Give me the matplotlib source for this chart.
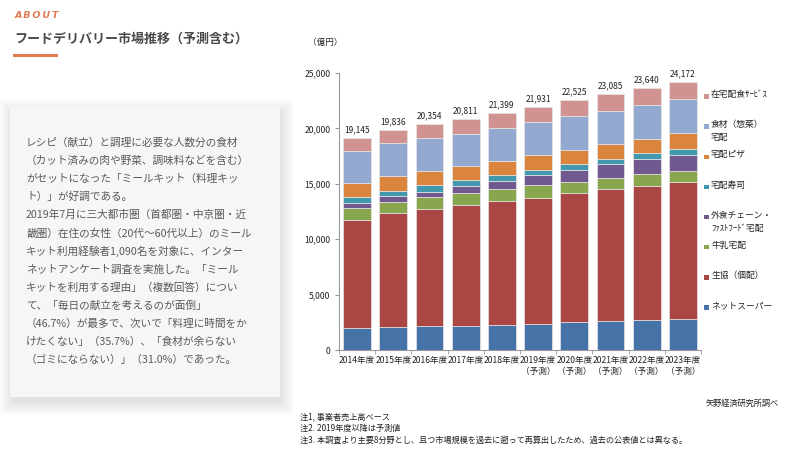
import matplotlib
matplotlib.use("Agg")
import matplotlib.pyplot as plt
from matplotlib.patches import Rectangle
from matplotlib.ticker import FuncFormatter, FixedLocator
import numpy as np

plt.rcParams['font.family'] = ['Noto Sans CJK JP', 'DejaVu Sans']

# ---------------- data ----------------
years = ["2014年度", "2015年度", "2016年度", "2017年度", "2018年度",
         "2019年度\n（予測）", "2020年度\n（予測）", "2021年度\n（予測）",
         "2022年度\n（予測）", "2023年度\n（予測）"]
totals = [19145, 19836, 20354, 20811, 21399, 21931, 22525, 23085, 23640, 24172]

net_super = [1958, 2046, 2136, 2196, 2256, 2347, 2497, 2617, 2737, 2828]
seikyo    = [9780, 10290, 10590, 10861, 11162, 11401, 11643, 11884, 12095, 12307]
milk      = [1055, 1050, 1053, 1083, 1083, 1114, 1022, 995, 1023, 1020]
chain     = [510, 510, 511, 632, 752, 902, 1053, 1261, 1353, 1471]
sushi     = [480, 480, 572, 541, 541, 511, 542, 481, 542, 542]
pizza     = [1260, 1355, 1293, 1293, 1291, 1324, 1294, 1327, 1293, 1390]
sozai     = [2960, 2917, 2951, 2889, 2951, 2979, 3095, 3035, 3069, 3068]
haishoku  = [1142, 1188, 1248, 1316, 1363, 1353, 1379, 1485, 1528, 1546]

series_names = ["ネットスーパー", "生協（個配）", "牛乳宅配", "外食チェーン・\nﾌｧｽﾄﾌｰﾄﾞ宅配",
                "宅配寿司", "宅配ピザ", "食材（惣菜）\n宅配", "在宅配食ｻｰﾋﾞｽ"]
series_values = [net_super, seikyo, milk, chain, sushi, pizza, sozai, haishoku]
colors = ["#4572A7", "#AA4643", "#89A54E", "#71588F", "#4198AF", "#DB843D", "#93A9CF", "#D19392"]

yticks = [0, 5000, 10000, 15000, 20000, 25000]

body_lines = [
    "レシピ（献立）と調理に必要な人数分の食材",
    "（カット済みの肉や野菜、調味料などを含む）",
    "がセットになった「ミールキット（料理キッ",
    "ト）」が好調である。",
    "2019年7月に三大都市圏（首都圏・中京圏・近",
    "畿圏）在住の女性（20代～60代以上）のミール",
    "キット利用経験者1,090名を対象に、インター",
    "ネットアンケート調査を実施した。「ミール",
    "キットを利用する理由」（複数回答）につい",
    "て、「毎日の献立を考えるのが面倒」",
    "（46.7%）が最多で、次いで「料理に時間をか",
    "けたくない」（35.7%）、「食材が余らない",
    "（ゴミにならない）」（31.0%）であった。",
]
notes = ["注1, 事業者売上高ベース",
         "注2. 2019年度以降は予測値",
         "注3. 本調査より主要8分野とし、且つ市場規模を過去に遡って再算出したため、過去の公表値とは異なる。"]

# ---------------- figure ----------------
W, H = 791, 465
fig = plt.figure(figsize=(W / 100, H / 100), dpi=100)
fig.patch.set_facecolor("white")

def fx(x):
    return x / W

def fy(y):
    return 1 - y / H

# header
fig.text(fx(15), fy(16), "A B O U T".replace(" ", "\u2009"),
         color="#E07B54", fontsize=6.8, fontweight="bold", fontstyle="italic",
         va="center", ha="left", family=["DejaVu Sans"])
fig.text(fx(14), fy(39), "フードデリバリー市場推移（予測含む）", color="#4a4a4a",
         fontsize=9.4, fontweight="bold", va="center", ha="left")
fig.patches.append(Rectangle((fx(13), fy(57)), fx(58) - fx(13), (57 - 54.5) / H,
                             transform=fig.transFigure, color="#E07B54", lw=0))

# text box with soft shadow
bx0, by0, bx1, by1 = 10, 107, 280, 397
for g in range(14, 0, -1):
    fig.patches.append(Rectangle((fx(bx0 - g + 3), fy(by1 + g + 4)),
                                 (bx1 - bx0 + 2 * g - 3) / W, (by1 - by0 + 2 * g - 2) / H,
                                 transform=fig.transFigure, facecolor="black",
                                 alpha=0.006, lw=0))
fig.patches.append(Rectangle((fx(bx0), fy(by1)), (bx1 - bx0) / W, (by1 - by0) / H,
                             transform=fig.transFigure, facecolor="#f6f6f6", lw=0))
for i, line in enumerate(body_lines):
    fig.text(fx(26), fy(142.7 + 18.1 * i), line, fontsize=7.7, color="#5a5a5a",
             va="center", ha="left")

# ---------------- chart ----------------
ax = fig.add_axes([fx(339), fy(350), (701 - 339) / W, (350 - 73) / H])
x = np.arange(len(years))
bottom = np.zeros(len(years))
for vals, col in zip(series_values, colors):
    ax.bar(x, vals, 0.77, bottom=bottom, color=col, edgecolor="#e6e6e6",
           linewidth=0.5, zorder=2)
    bottom += np.array(vals)

for xi, tot in zip(x, totals):
    ax.text(xi, tot + 350, f"{tot:,}", ha="center", va="bottom", fontsize=6, color="#222")

ax.set_xlim(-0.5, len(years) - 0.5)
ax.set_ylim(0, 25000)
ax.set_yticks(yticks)
ax.yaxis.set_major_formatter(FuncFormatter(lambda v, p: f"{int(v):,}"))
ax.set_xticks(x)
ax.set_xticklabels(years, fontsize=6.2, color="#222", linespacing=1.35)
ax.xaxis.set_minor_locator(FixedLocator(np.arange(-0.5, len(years), 1.0)))
ax.tick_params(axis="x", which="major", length=0, pad=4)
ax.tick_params(axis="x", which="minor", length=3, color="#999999", direction="out")
ax.tick_params(axis="y", labelsize=6.2, labelcolor="#222", length=3,
               color="#999999", pad=3)
for s in ["top", "right"]:
    ax.spines[s].set_visible(False)
for s in ["left", "bottom"]:
    ax.spines[s].set_color("#999999")
    ax.spines[s].set_linewidth(0.8)
ax.set_facecolor("white")

fig.text(fx(325), fy(42), "（億円）", fontsize=6.2, color="#222", ha="center", va="center")

# legend (top-to-bottom = reversed stacking order)
for i, (name, col) in enumerate(zip(series_names[::-1], colors[::-1])):
    yy = 96.7 + 30.1 * i
    fig.patches.append(Rectangle((fx(704), fy(yy + 2.3)), 4.6 / W, 4.6 / H,
                                 transform=fig.transFigure, facecolor=col, lw=0))
    fig.text(fx(711), fy(yy - 6.5), name, fontsize=6.3, color="#222",
             ha="left", va="top", linespacing=1.55)

# notes
fig.text(fx(779), fy(403), "矢野経済研究所調べ", fontsize=5.9, color="#222", ha="right", va="center")
for i, n in enumerate(notes):
    fig.text(fx(300), fy(417 + 11.5 * i), n, fontsize=5.9, color="#222", ha="left", va="center")

fig.savefig("out.png", dpi=100)
